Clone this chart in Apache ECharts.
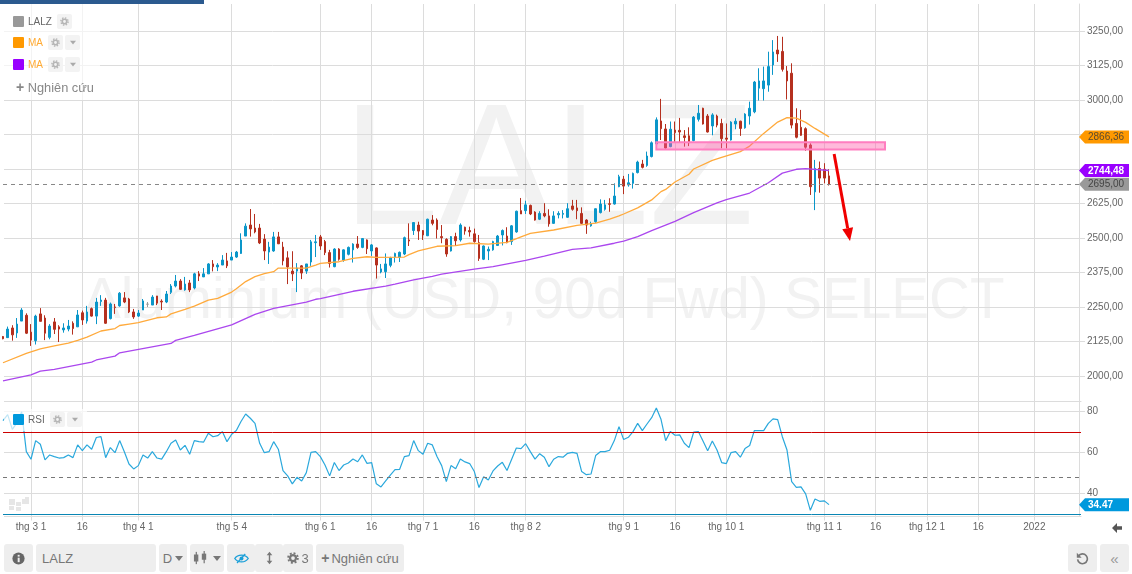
<!DOCTYPE html>
<html><head><meta charset="utf-8">
<style>
html,body{margin:0;padding:0;background:#fff;overflow:hidden;font-family:"Liberation Sans",Arial,sans-serif}
#chart{position:absolute;left:0;top:0;width:1132px;height:574px}
.ab{position:absolute;box-sizing:border-box}
.btn{position:absolute;box-sizing:border-box;background:#eee;border-radius:3px;color:#777;display:flex;align-items:center;justify-content:center}
.mini{position:absolute;background:#f3f3f3;border-radius:2px;width:15px;height:15px;display:flex;align-items:center;justify-content:center}
.sw{position:absolute;width:11px;height:11px;border-radius:1px}
.lt{position:absolute;font-size:10px;line-height:13px}
</style>
<script src="https://cdn.jsdelivr.net/npm/echarts@6/dist/echarts.min.js"></script>
</head><body>
<div id="chart"></div>
<div id="ui"></div>
<script>
const symbolName = 'LALZ';
const instrumentName = 'Aluminium (USD, 90d Fwd) SELECT';
const slotCount = 232;
const tickIndex = [6,17,29,49,68,79,90,101,112,133,144,155,176,187,198,209,221];
const tickText = ['thg 3 1','16','thg 4 1','thg 5 4','thg 6 1','16','thg 7 1','16','thg 8 2','thg 9 1','16','thg 10 1','thg 11 1','16','thg 12 1','16','2022'];
const priceTicks = [2000,2125,2250,2375,2500,2625,2750,2875,3000,3125,3250];
const priceLabels = [2000,2125,2250,2375,2500,2625,3000,3125,3250]; // 2750 and 2875 sit under the value tags
const rsiTicks = [40,60,80];
// [open, close, low, high]
const candles = [
[2143,2135,2133,2145],[2139,2170,2138,2179],[2174,2149,2128,2184],[2156,2188,2138,2210],[2199,2239,2199,2246],[2220,2155,2152,2227],
[2159,2130,2109,2188],[2128,2217,2114,2222],[2225,2198,2198,2246],[2210,2155,2130,2220],[2140,2181,2133,2188],[2196,2169,2152,2210],
[2178,2170,2123,2184],[2167,2174,2157,2191],[2170,2181,2162,2203],[2191,2172,2150,2198],[2178,2221,2178,2239],[2229,2203,2185,2237],
[2199,2232,2190,2254],[2244,2217,2215,2248],[2217,2268,2188,2283],[2270,2275,2254,2293],[2275,2191,2189,2283],[2208,2261,2205,2266],
[2250,2248,2225,2261],[2254,2300,2251,2304],[2283,2268,2264,2304],[2279,2232,2228,2283],[2232,2214,2207,2243],[2217,2228,2214,2239],
[2239,2272,2239,2279],[2260,2260,2250,2268],[2257,2286,2257,2293],[2290,2264,2257,2290],[2271,2268,2239,2278],[2268,2297,2264,2308],
[2303,2326,2297,2333],[2326,2344,2321,2366],[2344,2314,2312,2351],[2312,2333,2309,2359],[2337,2312,2304,2348],[2319,2370,2314,2374],
[2370,2362,2344,2380],[2359,2370,2359,2391],[2370,2406,2370,2409],[2406,2396,2379,2420],[2395,2402,2380,2409],[2402,2420,2402,2438],
[2417,2399,2391,2446],[2420,2431,2420,2449],[2431,2449,2428,2453],[2444,2493,2442,2517],[2507,2543,2507,2553],[2547,2533,2505,2605],
[2536,2522,2517,2587],[2536,2482,2478,2551],[2496,2453,2420,2514],[2449,2467,2406,2486],[2453,2504,2450,2522],[2504,2479,2478,2522],
[2467,2417,2401,2486],[2428,2395,2333,2452],[2380,2370,2344,2452],[2380,2391,2304,2409],[2399,2373,2351,2402],[2380,2406,2370,2406],
[2413,2486,2399,2493],[2483,2486,2431,2511],[2504,2471,2457,2511],[2487,2447,2438,2493],[2447,2408,2393,2457],[2396,2460,2394,2463],
[2460,2423,2418,2463],[2420,2457,2414,2459],[2441,2466,2437,2469],[2457,2478,2411,2481],[2478,2466,2461,2507],[2466,2498,2463,2500],
[2493,2461,2442,2495],[2453,2475,2435,2478],[2464,2402,2353,2466],[2377,2388,2372,2406],[2378,2406,2355,2444],[2401,2428,2394,2432],
[2432,2444,2411,2447],[2430,2448,2413,2451],[2442,2501,2438,2505],[2493,2489,2471,2553],[2527,2556,2511,2558],[2547,2525,2493,2559],
[2527,2511,2493,2529],[2508,2568,2507,2570],[2565,2553,2546,2583],[2565,2531,2498,2571],[2505,2501,2481,2547],[2495,2442,2432,2499],
[2453,2505,2451,2507],[2505,2490,2471,2519],[2493,2547,2487,2553],[2539,2525,2512,2541],[2527,2522,2505,2541],[2515,2487,2483,2534],
[2483,2426,2417,2511],[2423,2471,2420,2473],[2453,2459,2420,2469],[2457,2487,2454,2490],[2473,2507,2471,2511],[2511,2527,2473,2531],
[2507,2483,2481,2539],[2487,2544,2475,2547],[2522,2597,2519,2599],[2599,2587,2587,2645],[2599,2620,2587,2635],[2618,2587,2583,2621],
[2594,2565,2563,2597],[2568,2589,2565,2597],[2589,2580,2575,2626],[2580,2551,2541,2604],[2553,2580,2551,2597],[2584,2589,2571,2597],
[2586,2589,2571,2601],[2575,2606,2573,2626],[2616,2604,2599,2638],[2609,2599,2568,2638],[2589,2553,2551,2611],[2565,2547,2515,2568],
[2544,2551,2541,2559],[2559,2606,2555,2607],[2592,2623,2589,2640],[2604,2620,2599,2638],[2624,2622,2595,2644],[2623,2652,2621,2698],
[2686,2722,2684,2729],[2713,2688,2659,2725],[2692,2700,2686,2732],[2698,2734,2679,2737],[2737,2775,2734,2780],[2768,2756,2752,2783],
[2763,2797,2758,2813],[2795,2845,2792,2850],[2841,2928,2838,2937],[2924,2896,2855,3004],[2895,2826,2824,2913],[2831,2894,2829,2922],
[2891,2882,2848,2922],[2890,2884,2845,2935],[2870,2864,2831,2891],[2870,2845,2833,2901],[2853,2938,2850,2942],[2930,2952,2922,2982],
[2970,2913,2911,2972],[2942,2884,2882,2949],[2906,2946,2872,2952],[2942,2909,2901,2947],[2915,2860,2825,2932],[2862,2858,2825,2915],
[2855,2920,2853,2923],[2913,2923,2894,2934],[2923,2897,2870,2925],[2899,2949,2896,2952],[2942,2970,2911,2994],[2957,3065,2952,3069],
[3043,3069,2998,3115],[3041,3069,2998,3121],[3054,3121,3030,3175],[3127,3174,3091,3217],[3181,3167,3138,3232],[3176,3111,3103,3229],
[3105,3069,3002,3123],[3097,2909,2897,3133],[2915,2865,2861,2970],[2901,2872,2870,2964],[2896,2829,2816,2901],[2837,2686,2656,2843],
[2667,2752,2601,2783],[2752,2717,2664,2777],[2749,2717,2698,2771],[2725,2695,2690,2749]];
// moving averages: [bar index, value]
const maOrange = [[0,2048],[5,2082],[8,2098],[11,2109],[14,2119],[16,2129],[18,2141],[21,2163],[24,2172],[25,2183],[27,2188],[29,2193],[33,2211],[35,2214],[36,2225],[39,2241],[41,2253],[44,2275],[46,2281],[49,2304],[50,2316],[52,2342],[54,2360],[56,2371],[58,2378],[59,2391],[63,2391],[65,2391],[67,2402],[68,2408],[72,2414],[75,2426],[78,2432],[80,2430],[86,2431],[87,2440],[89,2453],[93,2470],[97,2472],[100,2481],[104,2478],[108,2484],[111,2504],[113,2517],[118,2529],[123,2546],[127,2554],[130,2568],[132,2580],[133,2587],[136,2609],[139,2638],[141,2668],[142,2676],[144,2703],[147,2731],[148,2750],[152,2781],[154,2792],[158,2813],[160,2833],[163,2879],[166,2920],[168,2936],[170,2934],[172,2919],[174,2897],[177,2866.36]];
const maPurple = [[0,1982],[6,2004],[8,2018],[11,2024],[19,2050],[20,2058],[24,2072],[25,2084],[36,2118],[37,2129],[41,2147],[49,2185],[54,2223],[58,2245],[65,2268],[67,2278],[68,2280],[75,2307],[82,2326],[84,2333],[88,2348],[92,2361],[94,2369],[101,2387],[105,2396],[112,2419],[116,2434],[122,2459],[126,2464],[131,2481],[133,2489],[136,2505],[139,2527],[144,2560],[148,2592],[153,2627],[155,2639],[160,2663],[164,2700],[167,2735],[170,2749],[172,2751],[177,2744.48]];
const rsi = [75.4,78.4,71.2,74.5,79.8,60.3,56.6,65.7,63.9,56.3,58.7,57.9,57.2,57.4,58.7,57.4,63.6,60.8,63.6,61.5,67.2,67.6,57.4,62.3,59.8,65.7,60.3,54.3,51.9,53.5,58.7,57.2,60.3,57.2,56.7,60.3,64.4,66,61.1,63.4,59,65.7,65.2,65,69.3,67.6,68.1,70.1,65.2,68.8,70.6,75,78.7,76.6,74.1,64.4,59.8,60.3,65.2,61.5,51.1,48.5,44.6,47.8,46,50.1,60,60.3,57.9,53.8,48.5,55,51.1,53.8,54.8,56.7,55.4,58.7,54.6,55,44.6,43.1,46,48.9,51.5,51.7,57.9,58.4,65.7,60.8,59,64.4,63.6,57.9,53.5,45.7,53.5,52,56.7,55.3,54.5,50.6,42.8,48.1,46.5,50.9,53.3,55.1,51.1,56.6,62.1,61.8,64.2,60.3,56.7,59.3,57.6,53,56.6,57.9,57.6,59.5,60,59.5,50.6,49.1,49.4,58.4,60.3,60.3,61,65.7,72.5,66.2,67.3,70.1,74.1,70.6,73.8,76.9,81.6,76.1,65.7,70.1,68.3,68.5,64.4,62.3,69.8,70.1,65.5,60.8,65.5,61.1,55,54.5,59.8,60.3,57.6,61.8,63.3,70.6,70.6,70.6,74.1,76.3,75.9,67.6,61.1,45.7,42.9,43.1,39.7,31.7,37.2,36.1,36.3,34.47];
const lastPrice = 2695, lastOrange = 2866.36, lastPurple = 2744.48, lastRsi = 34.47;
const rsiUpper = 70, rsiLower = 30, rsiMid = 47.8;
const zoneLow = 2821, zoneHigh = 2847, zoneFrom = 140, zoneTo = 189;
const arrowFrom = [178.1, 2804], arrowTo = [181.5, 2489]; // bar index, price

const categories = Array.from({length: slotCount}, (_, i) => {
  const k = tickIndex.indexOf(i); return k >= 0 ? tickText[k] : '';
});
const isTick = i => tickIndex.indexOf(i) >= 0;
const grey = '#dcdcdc', txt = '#666';
const FF = '"Liberation Sans",Arial,sans-serif';
const BLUE = '#0a96c9', RED = '#b5301f';
const comma = v => v.toFixed(2).replace('.', ',');

const chart = echarts.init(document.getElementById('chart'), null, {renderer: 'canvas', width: 1132, height: 574});
const xBase = {
  type: 'category', data: categories, boundaryGap: false,
  splitLine: {show: true, interval: isTick, lineStyle: {color: grey, width: 1}},
  axisLine: {show: true, lineStyle: {color: grey}}
};
chart.setOption({
  animation: false,
  backgroundColor: '#fff',
  grid: [{left: 3, width: 1078, top: 4, height: 397}, {left: 3, width: 1078, top: 401, height: 115.5}],
  xAxis: [
    Object.assign({gridIndex: 0, axisTick: {show: false}, axisLabel: {show: false}}, xBase),
    Object.assign({gridIndex: 1,
      axisTick: {show: true, interval: isTick, length: 4, lineStyle: {color: grey}},
      axisLabel: {show: true, interval: isTick, margin: 6, color: txt, fontSize: 10, fontFamily: FF, hideOverlap: false}}, xBase)
  ],
  yAxis: [
    {gridIndex: 0, type: 'value', position: 'right', offset: -2, min: 1909.4, max: 3347.8, scale: true,
     axisLine: {show: true, lineStyle: {color: grey}},
     axisTick: {show: true, length: 6, lineStyle: {color: grey}, customValues: priceTicks},
     axisLabel: {show: true, margin: 8, color: txt, fontSize: 10, fontFamily: FF, customValues: priceLabels, formatter: comma, padding: [2, 0, 0, 0]},
     splitLine: {show: true, lineStyle: {color: grey}}},
    {gridIndex: 1, type: 'value', position: 'right', offset: -2, min: 28.68, max: 85.02, scale: true,
     axisLine: {show: true, lineStyle: {color: grey}},
     axisTick: {show: true, length: 6, lineStyle: {color: grey}, customValues: rsiTicks},
     axisLabel: {show: true, margin: 8, color: txt, fontSize: 10, fontFamily: FF, customValues: rsiTicks, padding: [2, 0, 0, 0]},
     splitLine: {show: true, lineStyle: {color: grey}}}
  ],
  series: [
    {type: 'candlestick', name: symbolName, xAxisIndex: 0, yAxisIndex: 0, data: candles, barWidth: 2, z: 3,
     itemStyle: {color: BLUE, color0: RED, borderColor: BLUE, borderColor0: RED, borderColorDoji: '#999', borderWidth: 1},
     markLine: {silent: true, symbol: 'none', label: {show: false},
       lineStyle: {color: '#888', type: [4, 4], width: 1}, data: [{yAxis: lastPrice}]},
     markArea: {silent: true, z: 5,
       itemStyle: {color: 'rgba(255,90,170,0.42)', borderColor: '#ff7ec0', borderWidth: 2},
       data: [[{coord: [zoneFrom, zoneHigh]}, {coord: [zoneTo, zoneLow]}]]}},
    {type: 'line', name: 'MA', xAxisIndex: 0, yAxisIndex: 0, data: maOrange, showSymbol: false, z: 4,
     lineStyle: {color: '#ffaa3c', width: 1.3}},
    {type: 'line', name: 'MA', xAxisIndex: 0, yAxisIndex: 0, data: maPurple, showSymbol: false, z: 4,
     lineStyle: {color: '#ab47ee', width: 1.3}},
    {type: 'line', name: 'RSI', xAxisIndex: 1, yAxisIndex: 1, data: rsi, showSymbol: false, z: 4,
     lineStyle: {color: '#2aa8dc', width: 1.2},
     markLine: {silent: true, symbol: 'none', label: {show: false}, data: [
       {yAxis: rsiUpper, lineStyle: {color: '#cc0000', width: 1, type: 'solid'}},
       {yAxis: rsiLower, lineStyle: {color: '#0a86b4', width: 1, type: 'solid'}},
       {yAxis: rsiMid, lineStyle: {color: '#777', width: 1, type: [4, 4]}}]}}
  ]
});

const px = (bar, price, g) => {
  const a = Math.floor(bar), xa = chart.convertToPixel({xAxisIndex: g}, a), xb = chart.convertToPixel({xAxisIndex: g}, a + 1);
  return [xa + (xb - xa) * (bar - a), chart.convertToPixel({yAxisIndex: g}, price)];
};
function tag(value, g, text, fill, color, weight) {
  const y = px(0, value, g)[1];
  return [
    {type: 'polygon', z: 20, silent: true, shape: {points: [[1079, y], [1085, y - 6.5], [1129, y - 6.5], [1129, y + 6.5], [1085, y + 6.5]]}, style: {fill}},
    {type: 'text', z: 21, silent: true, style: {x: 1088, y: y + 0.5, text, fill: color, font: weight + ' 10px ' + FF, textAlign: 'left', textVerticalAlign: 'middle'}}
  ];
}
const A = px(arrowFrom[0], arrowFrom[1], 0), B = px(arrowTo[0], arrowTo[1], 0);
const dx = B[0] - A[0], dy = B[1] - A[1], L = Math.hypot(dx, dy), ux = dx / L, uy = dy / L;
const H = [B[0] - ux * 13, B[1] - uy * 13];
const logo = [[9,499,6,6],[16,502,5,4],[22,499,4,5],[25,497,4,7],[16,507,5,4],[9,506,5,4]];
chart.setOption({graphic: [
  {type: 'text', z: -1, silent: true, style: {x: 343, y: 177, text: symbolName, fill: '#f2f2f2', font: '172px ' + FF, textAlign: 'left', textVerticalAlign: 'middle'}},
  {type: 'text', z: -1, silent: true, style: {x: 83, y: 302, text: instrumentName, fill: '#f2f2f2', font: '56.6px ' + FF, textAlign: 'left', textVerticalAlign: 'middle'}},
  {type: 'rect', z: 30, silent: true, shape: {x: 0, y: 0, width: 204, height: 4}, style: {fill: '#2b5a8f'}},
  {type: 'rect', z: 1, silent: true, shape: {x: 0, y: 0, width: 4, height: 520}, style: {fill: '#fff'}},
  ...logo.map(r => ({type: 'rect', z: 6, silent: true, shape: {x: r[0], y: r[1], width: r[2], height: r[3]}, style: {fill: '#e6e6e6'}})),
  {type: 'line', z: 12, silent: true, shape: {x1: A[0], y1: A[1], x2: H[0], y2: H[1]}, style: {stroke: '#f00000', lineWidth: 3}},
  {type: 'polygon', z: 12, silent: true, shape: {points: [B, [H[0] - uy * 5.5, H[1] + ux * 5.5], [H[0] + uy * 5.5, H[1] - ux * 5.5]]}, style: {fill: '#f00000'}},
  ...tag(lastOrange, 0, comma(lastOrange), '#ff9900', '#5a4a30', 'normal'),
  ...tag(lastPurple, 0, comma(lastPurple), '#9900ff', '#ffffff', 'bold'),
  ...tag(lastPrice, 0, comma(lastPrice), '#999999', '#444444', 'normal'),
  ...tag(lastRsi, 1, lastRsi.toFixed(2), '#0099dd', '#ffffff', 'bold')
]});

// ---- surrounding chrome ----
const gear = (s, c) => `<svg width="${s}" height="${s}" viewBox="0 0 16 16"><circle cx="8" cy="8" r="4" fill="none" stroke="${c}" stroke-width="3"/><circle cx="8" cy="8" r="6.5" fill="none" stroke="${c}" stroke-width="2.4" stroke-dasharray="2.6 2.5"/></svg>`;
const caret = (c, w = 8) => `<svg width="${w}" height="5" viewBox="0 0 8 5"><path d="M0 0H8L4 5Z" fill="${c}"/></svg>`;
let h = '';
h += '<div class="ab" style="left:4px;top:4px;width:96px;height:96px;background:rgba(255,255,255,.65)"></div>';
h += '<div class="ab" style="left:4px;top:409px;width:83px;height:22px;background:rgba(255,255,255,.7)"></div>';
const row = (y, color, label, lc, gx, cx) => {
  let s = `<div class="sw" style="left:13px;top:${y}px;background:${color}"></div><div class="lt" style="left:28px;top:${y - 1}px;color:${lc}">${label}</div>`;
  s += `<div class="mini" style="left:${gx}px;top:${y - 2}px">${gear(9, '#b5b5b5')}</div>`;
  if (cx) s += `<div class="mini" style="left:${cx}px;top:${y - 2}px">${caret('#aaa', 6)}</div>`;
  return s;
};
h += row(16, '#999999', symbolName, '#666', 57, 0);
h += row(37, '#ff9900', 'MA', '#ffaa33', 48, 65);
h += row(59, '#9900ff', 'MA', '#ffaa33', 48, 65);
h += row(414, '#0099dd', 'RSI', '#666', 50, 67);
h += `<div class="ab" style="left:16px;top:79px;font-size:12.8px;line-height:16px;color:#888;white-space:nowrap"><b style="font-size:14px">+</b> Nghiên cứu</div>`;
const btn = (x, w, inner) => `<div class="btn" style="left:${x}px;top:544px;width:${w}px;height:28px">${inner}</div>`;
h += btn(4, 29, `<svg width="13" height="13" viewBox="0 0 16 16"><circle cx="8" cy="8" r="7.5" fill="#666"/><rect x="7" y="7" width="2.4" height="5.5" fill="#eee"/><rect x="7" y="3.5" width="2.4" height="2.2" fill="#eee"/></svg>`);
h += `<div class="btn" style="left:36px;top:544px;width:120px;height:28px;justify-content:flex-start;padding-left:6px;font-size:13px">${symbolName}</div>`;
h += btn(159, 28, `<span style="font-size:13px;margin-right:3px">D</span>${caret('#777')}`);
h += btn(190, 34, `<svg width="15" height="14" viewBox="0 0 17 16" style="margin-right:5px"><g fill="#777"><rect x="1" y="4" width="5" height="8"/><rect x="3" y="1" width="1.4" height="14"/><rect x="10" y="3" width="5" height="7"/><rect x="12" y="0" width="1.4" height="14"/></g></svg>${caret('#777')}`);
h += btn(227, 28, `<svg width="15" height="11" viewBox="0 0 20 14"><path d="M1 7C5 1 15 1 19 7C15 13 5 13 1 7Z" fill="none" stroke="#1a9fd8" stroke-width="1.8"/><circle cx="10" cy="7" r="2.6" fill="#1a9fd8"/><path d="M4 13L15 1" stroke="#1a9fd8" stroke-width="1.6"/></svg>`);
h += btn(255, 28, `<svg width="7" height="16" viewBox="0 0 10 18"><path d="M5 0L9 5H6V13H9L5 18L1 13H4V5H1Z" fill="#777"/></svg>`);
h += btn(283, 30, `${gear(12, '#777')}<span style="font-size:13px;margin-left:2px">3</span>`);
h += btn(316, 88, `<span style="font-size:14px;font-weight:bold;margin-right:2px">+</span><span style="font-size:13px;white-space:nowrap">Nghiên cứu</span>`);
h += btn(1068, 29, `<svg width="13" height="13" viewBox="0 0 16 16"><path d="M3 5A6 6 0 1 1 2 9" fill="none" stroke="#777" stroke-width="2"/><path d="M1 1V7H7Z" fill="#777"/></svg>`);
h += btn(1100, 29, `<span style="font-size:15px;color:#999">«</span>`);
h += `<svg class="ab" style="left:1112px;top:523px" width="10" height="10" viewBox="0 0 12 12"><path d="M0 6L6 0V4H12V8H6V12Z" fill="#555"/></svg>`;
document.getElementById('ui').innerHTML = h;
</script>
</body></html>
